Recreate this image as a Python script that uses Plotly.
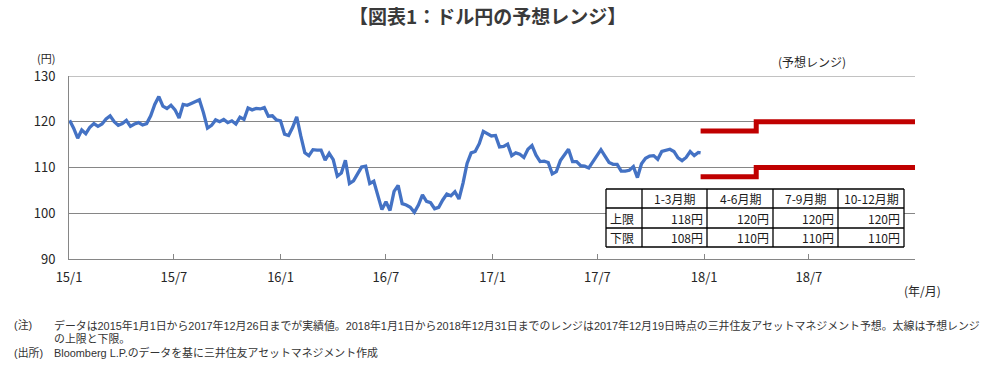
import pandas as pd
import plotly.graph_objects as go

# ---------------- data ----------------
usd_jpy_2015 = [120.3, 118.6, 116.4, 118.2, 117.4, 118.8, 119.6, 119.0, 119.5, 120.6,
                121.3, 120.0, 119.2, 119.6, 120.3, 119.0, 119.5, 119.8, 119.3, 119.6,
                121.3, 123.8, 125.5, 123.4, 122.9, 123.6, 122.6, 120.8, 123.8, 123.6,
                124.0, 124.5, 124.8, 122.0, 118.6, 119.2, 120.4, 120.0, 120.5, 119.8,
                120.2, 119.5, 121.0, 120.5, 123.0, 122.6, 122.9, 122.8, 123.1, 121.2,
                121.3, 120.4]
usd_jpy_2016 = [120.2, 117.3, 117.0, 118.8, 121.1, 116.9, 113.2, 112.6, 113.9, 113.8,
                113.8, 111.6, 113.1, 111.7, 108.1, 108.8, 111.6, 106.5, 107.1, 108.6,
                110.1, 110.3, 106.5, 107.0, 104.1, 100.8, 102.5, 100.6, 104.8, 106.1,
                102.1, 101.8, 101.3, 100.2, 101.8, 104.0, 102.6, 102.3, 101.0, 101.3,
                102.9, 104.2, 103.8, 104.7, 103.1, 106.6, 110.9, 113.2, 113.5, 115.2,
                117.9, 117.3, 116.9]
usd_jpy_2017 = [117.0, 114.5, 114.6, 115.1, 112.6, 113.2, 112.9, 112.2, 114.0, 114.8,
                112.7, 111.3, 111.4, 111.1, 108.6, 109.1, 111.5, 112.7, 114.0, 111.3,
                111.3, 110.4, 110.3, 109.9, 111.3, 112.4, 113.9, 112.5, 111.1, 110.7,
                110.7, 109.2, 109.2, 109.4, 110.2, 107.8, 110.8, 112.0, 112.5, 112.6,
                111.8, 113.5, 113.7, 114.0, 113.5, 112.1, 111.5, 112.2, 113.5, 112.6,
                113.3, 113.2]

dates_2015 = list(pd.date_range("2015-01-02", "2015-12-25", freq="W-FRI"))
dates_2016 = list(pd.date_range("2016-01-01", "2016-12-30", freq="W-FRI"))
dates_2017 = list(pd.date_range("2017-01-06", "2017-12-22", freq="W-FRI")) + [pd.Timestamp("2017-12-26")]

periods = ["1-3月期", "4-6月期", "7-9月期", "10-12月期"]
period_starts = ["2018-01-01", "2018-04-01", "2018-07-01", "2018-10-01"]
forecast_start = "2017-12-26"
forecast_end = "2018-12-31"
upper = [118, 120, 120, 120]
lower = [108, 110, 110, 110]
row_labels = ["上限", "下限"]

tick_dates = ["2015-01-01", "2015-07-01", "2016-01-01", "2016-07-01",
              "2017-01-01", "2017-07-01", "2018-01-01", "2018-07-01"]
tick_labels = ["15/1", "15/7", "16/1", "16/7", "17/1", "17/7", "18/1", "18/7"]

note_lines = [
    ("(注)", "データは2015年1月1日から2017年12月26日までが実績値。2018年1月1日から2018年12月31日までのレンジは"
            "2017年12月19日時点の三井住友アセットマネジメント予想。太線は予想レンジ"),
    ("", "の上限と下限。"),
    ("(出所)", "Bloomberg L.P.のデータを基に三井住友アセットマネジメント作成"),
]

# ---------------- layout geometry (pixels) ----------------
W, H = 987, 370
L, R, T, B = 69, 915, 76, 259
FONT = "Noto Sans CJK JP"
NOTE_FONT = "Liberation Sans, Noto Sans CJK JP"


def px_x(x):
    return (x - L) / (R - L)


def px_y(y):
    return (B - y) / (B - T)


dates = dates_2015 + dates_2016 + dates_2017
values = usd_jpy_2015 + usd_jpy_2016 + usd_jpy_2017

fig = go.Figure()
fig.add_trace(go.Scatter(x=dates, y=values, mode="lines",
                         line=dict(color="#4472C4", width=3.3), hoverinfo="skip",
                         showlegend=False))

step_x = [forecast_start] + period_starts[1:] + [forecast_end]
fig.add_trace(go.Scatter(x=step_x, y=upper + [upper[-1]], mode="lines", line_shape="hv",
                         line=dict(color="#C00000", width=5), showlegend=False))
fig.add_trace(go.Scatter(x=step_x, y=lower + [lower[-1]], mode="lines", line_shape="hv",
                         line=dict(color="#C00000", width=5), showlegend=False))

shapes = []
annotations = []

# top gridline at 130
shapes.append(dict(type="line", xref="paper", yref="y", x0=0, x1=1, y0=130, y1=130,
                   line=dict(color="#868686", width=1), layer="below"))

# table
col_px = [606, 642, 707, 773, 838, 904]
row_px = [189, 208, 228, 247]
shapes.append(dict(type="rect", xref="paper", yref="paper",
                   x0=px_x(col_px[0]), x1=px_x(col_px[-1]), y0=px_y(row_px[-1]), y1=px_y(row_px[0]),
                   fillcolor="white", line=dict(width=0), layer="above"))
for yy in row_px:
    shapes.append(dict(type="line", xref="paper", yref="paper",
                       x0=px_x(col_px[0]), x1=px_x(col_px[-1]), y0=px_y(yy), y1=px_y(yy),
                       line=dict(color="black", width=1.3), layer="above"))
for xx in col_px:
    shapes.append(dict(type="line", xref="paper", yref="paper",
                       x0=px_x(xx), x1=px_x(xx), y0=px_y(row_px[0]), y1=px_y(row_px[-1]),
                       line=dict(color="black", width=1.3), layer="above"))

tfont = dict(family=FONT, size=12, color="#1a1a1a")
for i, p in enumerate(periods):
    cx = (col_px[i + 1] + col_px[i + 2]) / 2
    cy = (row_px[0] + row_px[1]) / 2
    annotations.append(dict(text=p, x=px_x(cx), y=px_y(cy), xref="paper", yref="paper",
                            showarrow=False, xanchor="center", yanchor="middle", font=tfont))
for r, (lab, vals) in enumerate(zip(row_labels, [upper, lower])):
    cy = (row_px[r + 1] + row_px[r + 2]) / 2
    annotations.append(dict(text=lab, x=px_x(col_px[0] + 2), y=px_y(cy), xref="paper", yref="paper",
                            showarrow=False, xanchor="left", yanchor="middle", font=tfont))
    for i, v in enumerate(vals):
        annotations.append(dict(text=f"{v}円", x=px_x(col_px[i + 2] - 2), y=px_y(cy),
                                xref="paper", yref="paper", showarrow=False,
                                xanchor="right", yanchor="middle", font=tfont))

# titles and labels
annotations.append(dict(text="<b>【図表1：ドル円の予想レンジ】</b>", x=px_x(487), y=px_y(15),
                        xref="paper", yref="paper", showarrow=False, xanchor="center", yanchor="middle",
                        font=dict(family=FONT, size=19, color="#3a3a3a")))
annotations.append(dict(text="(円)", x=px_x(46), y=px_y(58), xref="paper", yref="paper",
                        showarrow=False, xanchor="center", yanchor="middle",
                        font=dict(family=FONT, size=11, color="#262626")))
annotations.append(dict(text="(予想レンジ)", x=px_x(812), y=px_y(62), xref="paper", yref="paper",
                        showarrow=False, xanchor="center", yanchor="middle",
                        font=dict(family=FONT, size=12, color="#262626")))
annotations.append(dict(text="(年/月)", x=px_x(922), y=px_y(290), xref="paper", yref="paper",
                        showarrow=False, xanchor="center", yanchor="middle",
                        font=dict(family=FONT, size=12, color="#262626")))

nfont = dict(family=NOTE_FONT, size=10.9, color="#333333")
for yy, (head, body) in zip([325, 338.5, 352], note_lines):
    if head:
        annotations.append(dict(text=head, x=px_x(12), y=px_y(yy), xref="paper", yref="paper",
                                showarrow=False, xanchor="left", yanchor="middle", font=nfont))
    annotations.append(dict(text=body, x=px_x(52), y=px_y(yy), xref="paper", yref="paper",
                            showarrow=False, xanchor="left", yanchor="middle", font=nfont))

fig.update_layout(
    width=W, height=H, autosize=False,
    margin=dict(l=L, r=W - R, t=T, b=H - B, pad=0),
    paper_bgcolor="white", plot_bgcolor="white",
    shapes=shapes, annotations=annotations,
    xaxis=dict(type="date", range=["2015-01-01", forecast_end], tickvals=tick_dates,
               ticktext=tick_labels, ticks="inside", ticklen=5, tickcolor="#868686",
               showline=True, linecolor="#868686", linewidth=1, showgrid=False, zeroline=False,
               tickfont=dict(family=FONT, size=13, color="#262626"), ticklabelstandoff=6),
    yaxis=dict(range=[90, 130], dtick=10, showgrid=True, gridcolor="#868686", gridwidth=1,
               showline=True, linecolor="#868686", linewidth=1, zeroline=False, ticks="",
               tickfont=dict(family=FONT, size=13, color="#262626"), ticklabelstandoff=10),
)

fig.write_html("out.html", config={"displayModeBar": False},
               post_script="document.body.style.margin='0';")
